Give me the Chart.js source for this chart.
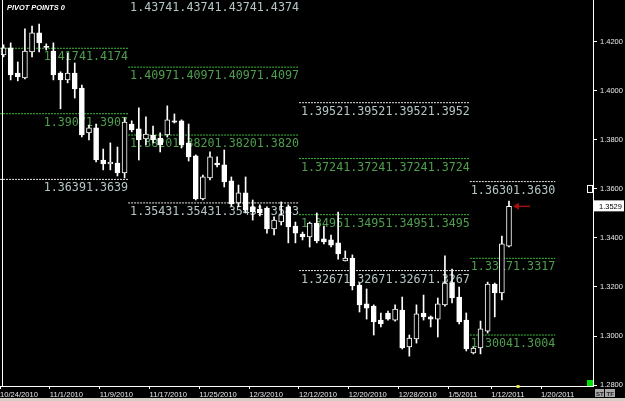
<!DOCTYPE html>
<html>
<head>
<meta charset="utf-8">
<title>Pivot points</title>
<script src="https://cdn.jsdelivr.net/npm/chart.js@4.4.0/dist/chart.umd.min.js"></script>
<style>
  body { margin: 0; background: #000; }
  canvas { display: block; }
  #status { width: 625px; height: 3px; background: #d4d0c8; }
</style>
</head>
<body>
<canvas id="chart" width="625" height="398"></canvas>
<div id="status"></div>
<script>
// daily candles
const opens = [1.4147,1.4176,1.4073,1.4053,1.4159,1.4237,1.4182,1.4163,1.4073,1.4045,
  1.4073,1.4012,1.3829,1.3849,1.3718,1.3702,1.3706,1.3665,1.3865,1.3845,
  1.3804,1.3820,1.3808,1.3820,1.3878,1.3878,1.3788,1.3735,1.3559,1.3645,
  1.3706,1.3698,1.3633,1.3543,1.3584,1.3527,1.3518,1.3522,1.3437,1.3465,
  1.3527,1.3449,1.3416,1.3404,1.3461,1.3396,1.3392,1.3380,1.3306,1.3318,
  1.3208,1.3131,1.3122,1.3065,1.3094,1.3065,1.3106,1.2955,1.2988,1.3094,
  1.3078,1.3069,1.3127,1.3216,1.3159,1.3065,1.2931,1.2951,1.3020,1.3212,
  1.3176,1.3367];
const highs = [1.4188,1.4196,1.4118,1.4253,1.4265,1.4273,1.4192,1.4196,1.4078,1.4155,
  1.4114,1.4024,1.3861,1.3865,1.3763,1.3788,1.3771,1.3890,1.3878,1.3931,
  1.3894,1.3857,1.3829,1.3939,1.3906,1.3882,1.3865,1.3739,1.3657,1.3751,
  1.3731,1.3759,1.3649,1.3616,1.3649,1.3555,1.3535,1.3527,1.3486,1.3547,
  1.3535,1.3465,1.3424,1.3465,1.3502,1.3449,1.3412,1.3506,1.3347,1.3331,
  1.3216,1.3192,1.3127,1.3094,1.3102,1.3127,1.3159,1.3004,1.3127,1.3167,
  1.3082,1.3155,1.3327,1.3273,1.3200,1.3094,1.2955,1.3061,1.3220,1.3216,
  1.3408,1.3551];
const lows = [1.4139,1.4045,1.4041,1.4049,1.4139,1.4159,1.4167,1.4045,1.3927,1.4033,
  1.3971,1.3812,1.3800,1.3710,1.3678,1.3678,1.3653,1.3645,1.3833,1.3718,
  1.3780,1.3788,1.3751,1.3812,1.3869,1.3767,1.3714,1.3555,1.3555,1.3637,
  1.3690,1.3608,1.3531,1.3527,1.3502,1.3473,1.3490,1.3420,1.3412,1.3453,
  1.3380,1.3380,1.3392,1.3363,1.3380,1.3376,1.3363,1.3314,1.3306,1.3188,
  1.3098,1.3069,1.3004,1.3037,1.3065,1.3061,1.2947,1.2918,1.2971,1.3065,
  1.3037,1.2996,1.3122,1.3135,1.3049,1.2939,1.2927,1.2927,1.3012,1.3078,
  1.3147,1.3363];
const closes = [1.4176,1.4065,1.4057,1.4163,1.4237,1.4196,1.4178,1.4065,1.4045,1.4073,
  1.4008,1.3820,1.3849,1.3718,1.3702,1.3710,1.3665,1.3873,1.3841,1.3800,
  1.3824,1.3800,1.3780,1.3882,1.3873,1.3780,1.3731,1.3559,1.3649,1.3731,
  1.3698,1.3629,1.3539,1.3584,1.3514,1.3506,1.3502,1.3437,1.3473,1.3494,
  1.3445,1.3420,1.3404,1.3461,1.3388,1.3384,1.3371,1.3335,1.3318,1.3204,
  1.3127,1.3114,1.3057,1.3049,1.3069,1.3110,1.2951,1.2992,1.3090,1.3078,
  1.3069,1.3131,1.3216,1.3155,1.3057,1.2947,1.2951,1.3029,1.3212,1.3176,
  1.3376,1.3529];

// date labels and the bar each one belongs to
const tickDates = ['10/24/2010','11/1/2010','11/9/2010','11/17/2010','11/25/2010','12/3/2010',
  '12/12/2010','12/20/2010','12/28/2010','1/5/2011','1/12/2011','1/20/2011'];
const tickBars = [0, 7, 14, 21, 28, 35, 42, 49, 56, 63, 69, 76];
const priceTicks = [1.28, 1.30, 1.32, 1.34, 1.36, 1.38, 1.40, 1.42];

// pivot periods (bar positions) and their levels
const pivotFrom = [-0.5, 17.5, 41.5, 65.5];
const pivotTo = [17.5, 41.5, 65.5, 77.5];
const pivotLevels = [
  [1.4174, 1.3907, 1.3639],
  [1.4374, 1.4097, 1.3820, 1.3543],
  [1.3952, 1.3724, 1.3495, 1.3267],
  [1.3630, 1.3317, 1.3004]
];
const pivotGreen = [
  [true, true, false],
  [false, true, true, false],
  [false, true, true, false],
  [false, true, true]
];
const pivotRepeat = [2, 4, 4, 2];

const GREEN_LINE = '#3cb83c';
const WHITE_LINE = '#e4e4e4';
const GREEN_TEXT = '#4f9f4f';
const WHITE_TEXT = '#b4c6c6';

const last = closes.length - 1;

const pivotSets = [];
pivotLevels.forEach((levels, w) => {
  levels.forEach((v, k) => {
    pivotSets.push({
      type: 'line',
      data: [{ x: pivotFrom[w], y: v }, { x: pivotTo[w], y: v }],
      borderColor: pivotGreen[w][k] ? GREEN_LINE : WHITE_LINE,
      borderWidth: 1,
      borderDash: [2, 1],
      pointRadius: 0,
      order: 2
    });
  });
});

// level texts go under the candles
const pivotText = {
  id: 'pivotText',
  beforeDatasetsDraw(chart) {
    const { ctx, scales: { x, y } } = chart;
    ctx.save();
    ctx.font = '11.7px "DejaVu Sans Mono"';
    ctx.textAlign = 'right';
    ctx.textBaseline = 'alphabetic';
    pivotLevels.forEach((levels, w) => {
      levels.forEach((v, k) => {
        ctx.fillStyle = pivotGreen[w][k] ? GREEN_TEXT : WHITE_TEXT;
        ctx.fillText(v.toFixed(4).repeat(pivotRepeat[w]),
          x.getPixelForValue(pivotTo[w]), y.getPixelForValue(v) + 12);
      });
    });
    ctx.restore();
  }
};

// frame bits, price tag, arrow and small terminal widgets
const decor = {
  id: 'decor',
  afterDraw(chart) {
    const { ctx, chartArea: area, scales: { x, y } } = chart;
    ctx.save();
    ctx.strokeStyle = '#fff';
    ctx.lineWidth = 1;
    ctx.beginPath();
    ctx.moveTo(area.left + 2.5, area.top);
    ctx.lineTo(area.left + 2.5, area.bottom);
    ctx.stroke();

    ctx.fillStyle = '#fff';
    ctx.font = 'italic bold 7.4px "Liberation Sans"';
    ctx.textBaseline = 'alphabetic';
    ctx.fillText('PIVOT POINTS 0', 7, 10);

    // last price tag on the axis
    const py = y.getPixelForValue(closes[last]);
    ctx.fillStyle = '#fff';
    ctx.fillRect(area.right + 1, py - 6, 30, 11);
    ctx.fillStyle = '#000';
    ctx.font = '7.5px "Liberation Sans"';
    ctx.fillText(closes[last].toFixed(4), area.right + 6, py + 3);

    // red arrow pointing at the last close
    const ax = x.getPixelForValue(last) + 4;
    ctx.strokeStyle = '#a01010';
    ctx.fillStyle = '#a01010';
    ctx.lineWidth = 1.5;
    ctx.beginPath();
    ctx.moveTo(ax + 3, py);
    ctx.lineTo(ax + 17, py);
    ctx.stroke();
    ctx.beginPath();
    ctx.moveTo(ax, py);
    ctx.lineTo(ax + 6, py - 3.5);
    ctx.lineTo(ax + 6, py + 3.5);
    ctx.closePath();
    ctx.fill();

    // small widgets
    const iy = y.getPixelForValue(1.36);
    ctx.strokeStyle = '#fff';
    ctx.lineWidth = 1;
    ctx.strokeRect(area.right - 5.5, iy - 3.5, 5, 7);
    ctx.fillStyle = '#00e000';
    ctx.fillRect(area.right - 6, area.bottom - 6, 6, 6);
    ctx.fillStyle = '#e8e040';
    ctx.fillRect(x.getPixelForValue(72.2) - 1, area.bottom - 1, 3, 3);

    ctx.fillStyle = '#a8a8a8';
    ctx.fillRect(595, 389, 9, 8);
    ctx.fillRect(605, 389, 10, 8);
    ctx.fillStyle = '#202020';
    ctx.font = 'bold 6px "Liberation Sans"';
    ctx.fillText('ST', 596, 396);
    ctx.fillText('TF', 606.5, 396);
    ctx.restore();
  }
};

new Chart(document.getElementById('chart'), {
  type: 'bar',
  data: {
    datasets: [
      {
        type: 'bar',
        data: closes.map((c, i) => ({ x: i, y: [Math.min(opens[i], c), Math.max(opens[i], c)] })),
        backgroundColor: closes.map((c, i) => (c >= opens[i] ? '#000' : '#fff')),
        borderColor: '#fff',
        borderWidth: 1,
        borderSkipped: false,
        barThickness: 5,
        grouped: false,
        order: 0
      },
      {
        type: 'bar',
        data: lows.map((l, i) => ({ x: i, y: [l, highs[i]] })),
        backgroundColor: '#fff',
        borderWidth: 0,
        barThickness: 1,
        grouped: false,
        order: 1
      },
      ...pivotSets
    ]
  },
  options: {
    responsive: false,
    animation: false,
    layout: { padding: 0 },
    plugins: {
      legend: { display: false },
      tooltip: { enabled: false },
      title: { display: false }
    },
    scales: {
      x: {
        type: 'linear',
        offset: false,
        min: -0.5,
        max: 82.8,
        afterBuildTicks: (scale) => {
          scale.ticks = tickBars.map(b => ({ value: b - 0.5 }));
        },
        afterFit: (scale) => {
          scale.height = 12;
          scale.paddingLeft = 0;
          scale.paddingRight = 0;
        },
        ticks: {
          autoSkip: false,
          maxRotation: 0,
          minRotation: 0,
          align: 'start',
          padding: 1,
          color: '#e8e8e8',
          font: { family: 'Liberation Sans', size: 7.6 },
          callback: (value, index) => tickDates[index]
        },
        grid: { drawOnChartArea: false, offset: false, color: '#fff', tickLength: 3 },
        border: { color: '#fff', width: 1 }
      },
      y: {
        position: 'right',
        min: 1.2796,
        max: 1.4371,
        afterBuildTicks: (scale) => {
          scale.ticks = priceTicks.map(v => ({ value: v }));
        },
        afterFit: (scale) => {
          scale.width = 32;
          scale.paddingTop = 0;
          scale.paddingBottom = 0;
        },
        ticks: {
          padding: 3,
          color: '#e8e8e8',
          font: { family: 'Liberation Sans', size: 7.5 },
          callback: (value) => value.toFixed(4)
        },
        grid: { drawOnChartArea: false, color: '#fff', tickLength: 4 },
        border: { color: '#fff', width: 1 }
      }
    }
  },
  plugins: [pivotText, decor]
});
</script>
</body>
</html>
